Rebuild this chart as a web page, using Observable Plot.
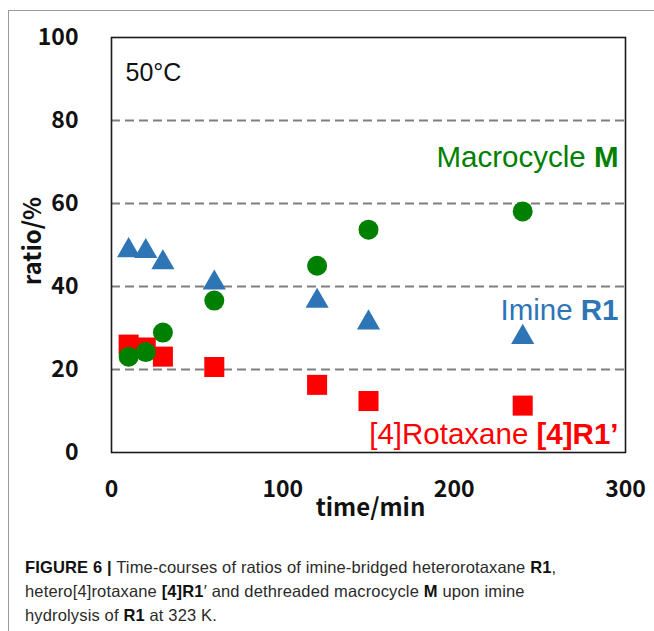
<!DOCTYPE html>
<html>
<head>
<meta charset="utf-8">
<script src="https://cdn.jsdelivr.net/npm/d3@7"></script>
<script src="https://cdn.jsdelivr.net/npm/@observablehq/plot@0.6"></script>
<style>
  html, body { margin: 0; padding: 0; background: #fff; overflow: hidden; }
  #wrap { position: relative; width: 654px; height: 631px; }
  #border { position: absolute; left: 8px; top: 10px; right: 0; bottom: 0;
            border-top: 1.5px solid #9a9a9a; border-left: 1.5px solid #9a9a9a; }
  #chart { position: absolute; left: 0; top: 0; }
  #caption { position: absolute; left: 25px; top: 555px; width: 620px;
             font-family: "Liberation Sans", Arial, sans-serif;
             font-size: 16.5px; letter-spacing: 0.15px; line-height: 24px; color: #2a2a2a; white-space: nowrap; }
  #caption b { font-weight: bold; color: #111; }
</style>
</head>
<body>
<div id="wrap">
  <div id="border"></div>
  <div id="chart"></div>
  <div id="caption"><b>FIGURE 6</b> <b>|</b> Time-courses of ratios of imine-bridged heterorotaxane <b>R1</b>,<br>hetero[4]rotaxane <b>[4]R1</b>′ and dethreaded macrocycle <b>M</b> upon imine<br>hydrolysis of <b>R1</b> at 323 K.</div>
</div>
<script>
// ---- data ----
const time       = [10, 20, 30, 60, 120, 150, 240];          // min
const imineR1    = [49.4, 49.2, 46.5, 41.6, 37.2, 32.0, 28.5]; // %
const rotaxane4  = [26.0, 25.3, 23.1, 20.6, 16.3, 12.4, 11.3]; // %
const macrocycle = [23.1, 24.2, 28.9, 36.6, 45.0, 53.7, 58.1]; // %

const xTicks = [0, 100, 200, 300];
const yTicks = [0, 20, 40, 60, 80, 100];
const gridValues = [20, 40, 60, 80];

const labelNormal = ["Macrocycle ", "Imine ", "[4]Rotaxane "];
const labelBold   = ["M", "R1", "[4]R1’"];
const labelY      = [71, 34.2, 4.3];
const labelColor  = ["#008000", "#2e75b6", "#ff0000"];

const rows = time.map((t, i) => ({time: t, imine: imineR1[i], rot: rotaxane4[i], mac: macrocycle[i]}));
const labels = labelNormal.map((n, i) => ({text: n + labelBold[i], y: labelY[i], color: labelColor[i]}));

const svg = Plot.plot({
  width: 654,
  height: 530,
  marginTop: 37,
  marginBottom: 78,
  marginLeft: 111,
  marginRight: 29,
  style: {fontFamily: "'Noto Sans CJK JP', 'Noto Sans', sans-serif", fontSize: "23px", fontWeight: "bold", color: "#111", background: "transparent"},
  x: {domain: [0, 300], ticks: xTicks, tickSize: 0, tickPadding: 28, label: null},
  y: {domain: [0, 100], ticks: yTicks, tickSize: 0, tickPadding: 33, label: null},
  marks: [
    Plot.ruleY(gridValues, {stroke: "#7f7f7f", strokeWidth: 2, strokeDasharray: "9,5"}),
    Plot.frame({stroke: "#1a1a1a", strokeWidth: 1.6}),
    Plot.dot(rows, {x: "time", y: "imine", symbol: "triangle", r: 8.6, fill: "#2e75b6", stroke: "none", dy: 3}),
    Plot.dot(rows, {x: "time", y: "rot", symbol: "square", r: 11.3, fill: "#ff0000", stroke: "none"}),
    Plot.dot(rows, {x: "time", y: "mac", symbol: "circle", r: 10, fill: "#008000", stroke: "none"}),
    Plot.text(labels, {frameAnchor: "right", y: "y", text: "text", fill: "color", dx: -7,
      textAnchor: "end", lineAnchor: "middle",
      fontFamily: "'Liberation Sans', Arial, sans-serif", fontSize: 29.5, fontWeight: "normal"}),
    Plot.text(["50°C"], {frameAnchor: "top-left", dx: 14, dy: 35, textAnchor: "start", lineAnchor: "middle",
      fontFamily: "'Liberation Sans', Arial, sans-serif", fontSize: 25, fontWeight: "normal", fill: "#111"}),
    Plot.text(["ratio/%"], {frameAnchor: "left", rotate: -90, dx: -78, dy: -4, textAnchor: "middle", lineAnchor: "middle",
      fontSize: 24, fontWeight: "bold", fill: "#111"}),
    Plot.text(["time/min"], {frameAnchor: "bottom", dy: 56, dx: 2, textAnchor: "middle", lineAnchor: "middle",
      fontSize: 24, fontWeight: "bold", fill: "#111"})
  ]
});

// mixed weight for series labels
d3.select(svg).selectAll("text").each(function() {
  const txt = this.textContent;
  const i = labels.findIndex(l => l.text === txt);
  if (i < 0) return;
  const t = d3.select(this);
  t.text(null);
  t.append("tspan").text(labelNormal[i]);
  t.append("tspan").attr("font-weight", "bold").text(labelBold[i]);
});

document.getElementById("chart").appendChild(svg);
</script>
</body>
</html>
